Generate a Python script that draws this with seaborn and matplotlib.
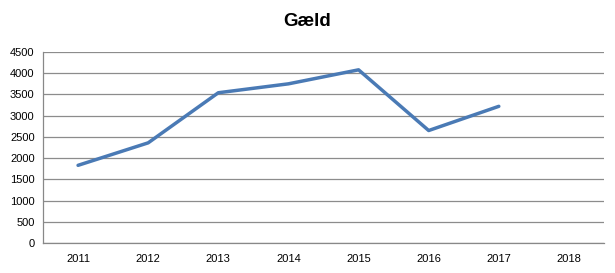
import matplotlib
matplotlib.use("Agg")
import matplotlib.pyplot as plt
import seaborn as sns
import numpy as np
import pandas as pd

years = ["2011", "2012", "2013", "2014", "2015", "2016", "2017", "2018"]
values = [1830, 2360, 3540, 3750, 4080, 2650, 3220, np.nan]
yticks = [0, 500, 1000, 1500, 2000, 2500, 3000, 3500, 4000, 4500]

sns.set_style("white")
plt.rcParams['font.family'] = ['Liberation Sans', 'DejaVu Sans']

df = pd.DataFrame({"year": years, "value": values})
df["pos"] = np.arange(len(years))

fig = plt.figure(figsize=(6.15, 2.73), dpi=100)
ax = fig.add_axes([43/615, 30/273, (604-43)/615, (243-52)/273])
sns.lineplot(data=df, x="pos", y="value", ax=ax, color="#4a7ab5", linewidth=2.5)

ax.set_xlim(-0.5, len(years) - 0.5)
ax.set_ylim(0, 4500)
ax.set_yticks(yticks)
ax.set_yticklabels([str(t) for t in yticks], fontsize=8, color="black")
ax.set_xticks(np.arange(len(years)))
ax.set_xticklabels(years, fontsize=8, color="black")
ax.set_xticks(np.arange(len(years) + 1) - 0.5, minor=True)
ax.tick_params(axis="x", which="major", length=0, pad=8)
ax.tick_params(axis="x", which="minor", length=4, color="#888888", direction="out")
ax.tick_params(axis="y", length=4, color="#888888", direction="out", pad=2)
ax.yaxis.grid(True, color="#8c8c8c", linewidth=0.9)
ax.set_axisbelow(True)
for s in ["top", "right"]:
    ax.spines[s].set_visible(False)
for s in ["left", "bottom"]:
    ax.spines[s].set_color("#888888")
    ax.spines[s].set_linewidth(0.9)
ax.set_xlabel("")
ax.set_ylabel("")
fig.text(0.5, 0.92, "Gæld", ha="center", va="center", fontsize=13.5,
         fontweight="bold", color="black")
fig.savefig("out.png", dpi=100)
